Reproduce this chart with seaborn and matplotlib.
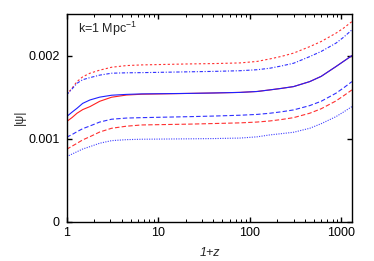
import numpy as np
import pandas as pd
import matplotlib
matplotlib.use("Agg")
import matplotlib.pyplot as plt
from matplotlib.ticker import FixedLocator, LogLocator, NullFormatter
import seaborn as sns

# 1+z sample positions
onepz = [1.0, 1.15, 1.3, 1.5, 1.8, 2.3, 3.1, 4.5, 6.6, 22, 40, 78, 120, 165, 220, 300, 450, 600, 870, 1050, 1300]

# |psi| values (x 1e-3)
red_dot_up   = [1.527, 1.610, 1.687, 1.745, 1.788, 1.825, 1.860, 1.880, 1.888, 1.900, 1.904, 1.912, 1.930, 1.960, 1.990, 2.030, 2.108, 2.170, 2.270, 2.330, 2.410]
blue_dot_up  = [1.527, 1.600, 1.667, 1.710, 1.735, 1.765, 1.788, 1.793, 1.795, 1.805, 1.810, 1.818, 1.830, 1.848, 1.875, 1.908, 1.988, 2.050, 2.150, 2.220, 2.310]
blue_solid   = [1.265, 1.320, 1.366, 1.425, 1.466, 1.500, 1.523, 1.533, 1.539, 1.545, 1.550, 1.557, 1.568, 1.587, 1.605, 1.627, 1.687, 1.750, 1.868, 1.930, 2.000]
red_solid    = [1.205, 1.255, 1.306, 1.350, 1.386, 1.450, 1.499, 1.525, 1.535, 1.545, 1.550, 1.557, 1.568, 1.587, 1.605, 1.627, 1.687, 1.750, 1.868, 1.930, 2.000]
blue_dash    = [1.017, 1.050, 1.084, 1.120, 1.153, 1.200, 1.234, 1.248, 1.253, 1.265, 1.272, 1.282, 1.292, 1.306, 1.323, 1.346, 1.398, 1.450, 1.547, 1.610, 1.687]
red_dash     = [0.872, 0.910, 0.944, 0.985, 1.024, 1.080, 1.125, 1.150, 1.165, 1.175, 1.182, 1.190, 1.200, 1.213, 1.230, 1.253, 1.306, 1.360, 1.454, 1.515, 1.587]
blue_dot_low = [0.783, 0.815, 0.843, 0.875, 0.904, 0.945, 0.976, 0.988, 0.993, 0.998, 1.001, 1.007, 1.022, 1.045, 1.060, 1.077, 1.125, 1.180, 1.265, 1.320, 1.386]

xticks = [1, 10, 100, 1000]
xticklabels = ["1", "10", "100", "1000"]
yticks = [0, 0.001, 0.002]
yticklabels = ["0", "0.001", "0.002"]

sns.set_style("ticks")
plt.rcParams["font.family"] = ["Liberation Sans", "DejaVu Sans"]
plt.rcParams["mathtext.fontset"] = "custom"
plt.rcParams["mathtext.rm"] = "Liberation Sans"
plt.rcParams["mathtext.it"] = "Liberation Sans:italic"

fig = plt.figure(figsize=(3.74, 2.61), dpi=100)
ax = fig.add_axes([0.178, 0.1506, 0.763, 0.7954])

series = [
    (red_dot_up, "#ff3030", (0, (2, 2))),
    (blue_dot_up, "#3030ff", (0, (3, 1.5, 1, 1.5))),
    (red_solid, "#ff2020", "-"),
    (blue_solid, "#2020ff", "-"),
    (blue_dash, "#3030ff", (0, (4, 2))),
    (red_dash, "#ff3030", (0, (4, 2))),
    (blue_dot_low, "#4040ff", (0, (1, 1.2))),
]
for vals, col, ls in series:
    df = pd.DataFrame({"x": onepz, "y": np.array(vals) * 1e-3})
    sns.lineplot(data=df, x="x", y="y", ax=ax, color=col, linestyle=ls,
                 linewidth=0.8, estimator=None, sort=True)

ax.set_xscale("log")
ax.set_xlim(1, 1300)
ax.set_ylim(0, 0.0025)
ax.xaxis.set_major_locator(FixedLocator(xticks))
ax.set_xticklabels(xticklabels)
ax.xaxis.set_minor_locator(LogLocator(base=10, subs=np.arange(2, 10)))
ax.xaxis.set_minor_formatter(NullFormatter())
ax.yaxis.set_major_locator(FixedLocator(yticks))
ax.set_yticklabels(yticklabels)

ax.tick_params(which="both", direction="in", top=True, right=True,
               labelsize=9, colors="black")
ax.tick_params(which="major", length=3.5, width=1.0, pad=4)
ax.tick_params(which="minor", length=2, width=0.7)
ax.tick_params(axis="y", which="major", pad=5)
for s in ax.spines.values():
    s.set_linewidth(1.0)
    s.set_color("black")

ax.set_xlabel("1+z", fontsize=9, style="italic")
ax.set_ylabel("|ψ|", fontsize=9)
ax.xaxis.label.set_va("center")
ax.yaxis.label.set_va("center")
ax.xaxis.set_label_coords(0.502, -0.149)
ax.yaxis.set_label_coords(-0.164, 0.504)

ax.text(0.041, 0.908, "k=1 Mpc$^{-1}$", transform=ax.transAxes,
        fontsize=9, ha="left", va="baseline")

fig.savefig("out.png", dpi=100)
